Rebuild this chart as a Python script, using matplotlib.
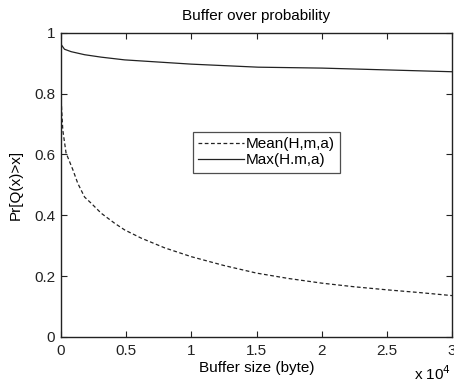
import matplotlib
matplotlib.use("Agg")
import matplotlib.pyplot as plt
from matplotlib.ticker import FuncFormatter, MultipleLocator

# Data (buffer size in bytes)
mean_x = [0, 77, 150, 400, 920, 1300, 1820, 2320, 3090, 4120, 4890, 6160, 7960,
          10000, 12500, 15000, 17500, 20000, 22500, 25000, 27500, 30000]
mean_y = [0.80, 0.737, 0.68, 0.605, 0.55, 0.505, 0.46, 0.44, 0.407, 0.374, 0.352,
          0.325, 0.293, 0.264, 0.235, 0.21, 0.192, 0.177, 0.165, 0.155, 0.146, 0.136]

max_x = [0, 280, 790, 1820, 3090, 4890, 7440, 10000, 12560, 15120, 20000, 25000, 30000]
max_y = [0.963, 0.946, 0.938, 0.928, 0.920, 0.911, 0.904, 0.897, 0.892, 0.887,
         0.884, 0.878, 0.872]

title = "Buffer over probability"
xlabel = "Buffer size (byte)"
ylabel = "Pr[Q(x)>x]"
legend_labels = ["Mean(H,m,a)", "Max(H.m,a)"]

plt.rcParams['font.family'] = ['Liberation Sans', 'DejaVu Sans']
fs = 11

fig = plt.figure(figsize=(4.54, 3.86), dpi=100)
ax = fig.add_axes([0.134, 0.127, 0.862, 0.788])

ax.plot(mean_x, mean_y, color='#222222', lw=0.9, linestyle=(0, (3, 2)), label=legend_labels[0])
ax.plot(max_x, max_y, color='#222222', lw=0.9, linestyle='-', label=legend_labels[1])

ax.set_xlim(0, 30000)
ax.set_ylim(0, 1)
ax.xaxis.set_major_locator(MultipleLocator(5000))
ax.yaxis.set_major_locator(MultipleLocator(0.2))
ax.xaxis.set_major_formatter(FuncFormatter(lambda v, p: f"{v/1e4:g}"))
ax.yaxis.set_major_formatter(FuncFormatter(lambda v, p: f"{v:g}"))
ax.tick_params(direction='in', top=True, right=True, length=4, width=0.8,
               labelsize=fs, colors='#222222')
ax.tick_params(axis='x', pad=5)
ax.tick_params(axis='y', pad=4)
for s in ax.spines.values():
    s.set_linewidth(1.0)
    s.set_color('#222222')

ax.set_title(title, fontsize=fs, pad=9)
ax.set_xlabel(xlabel, fontsize=fs, labelpad=2)
ax.set_ylabel(ylabel, fontsize=fs, labelpad=8)

fig.text(0.912, 0.008, r"x 10$^{4}$", fontsize=fs, ha='left', va='bottom')

leg = ax.legend(loc='upper left', bbox_to_anchor=(0.338, 0.675), fontsize=fs,
                frameon=True, fancybox=False, edgecolor='#222222', handlelength=3.0,
                handletextpad=0.1, borderpad=0.35, labelspacing=0.15, borderaxespad=0)
leg.get_frame().set_linewidth(0.9)

fig.savefig("out.png", dpi=100)
